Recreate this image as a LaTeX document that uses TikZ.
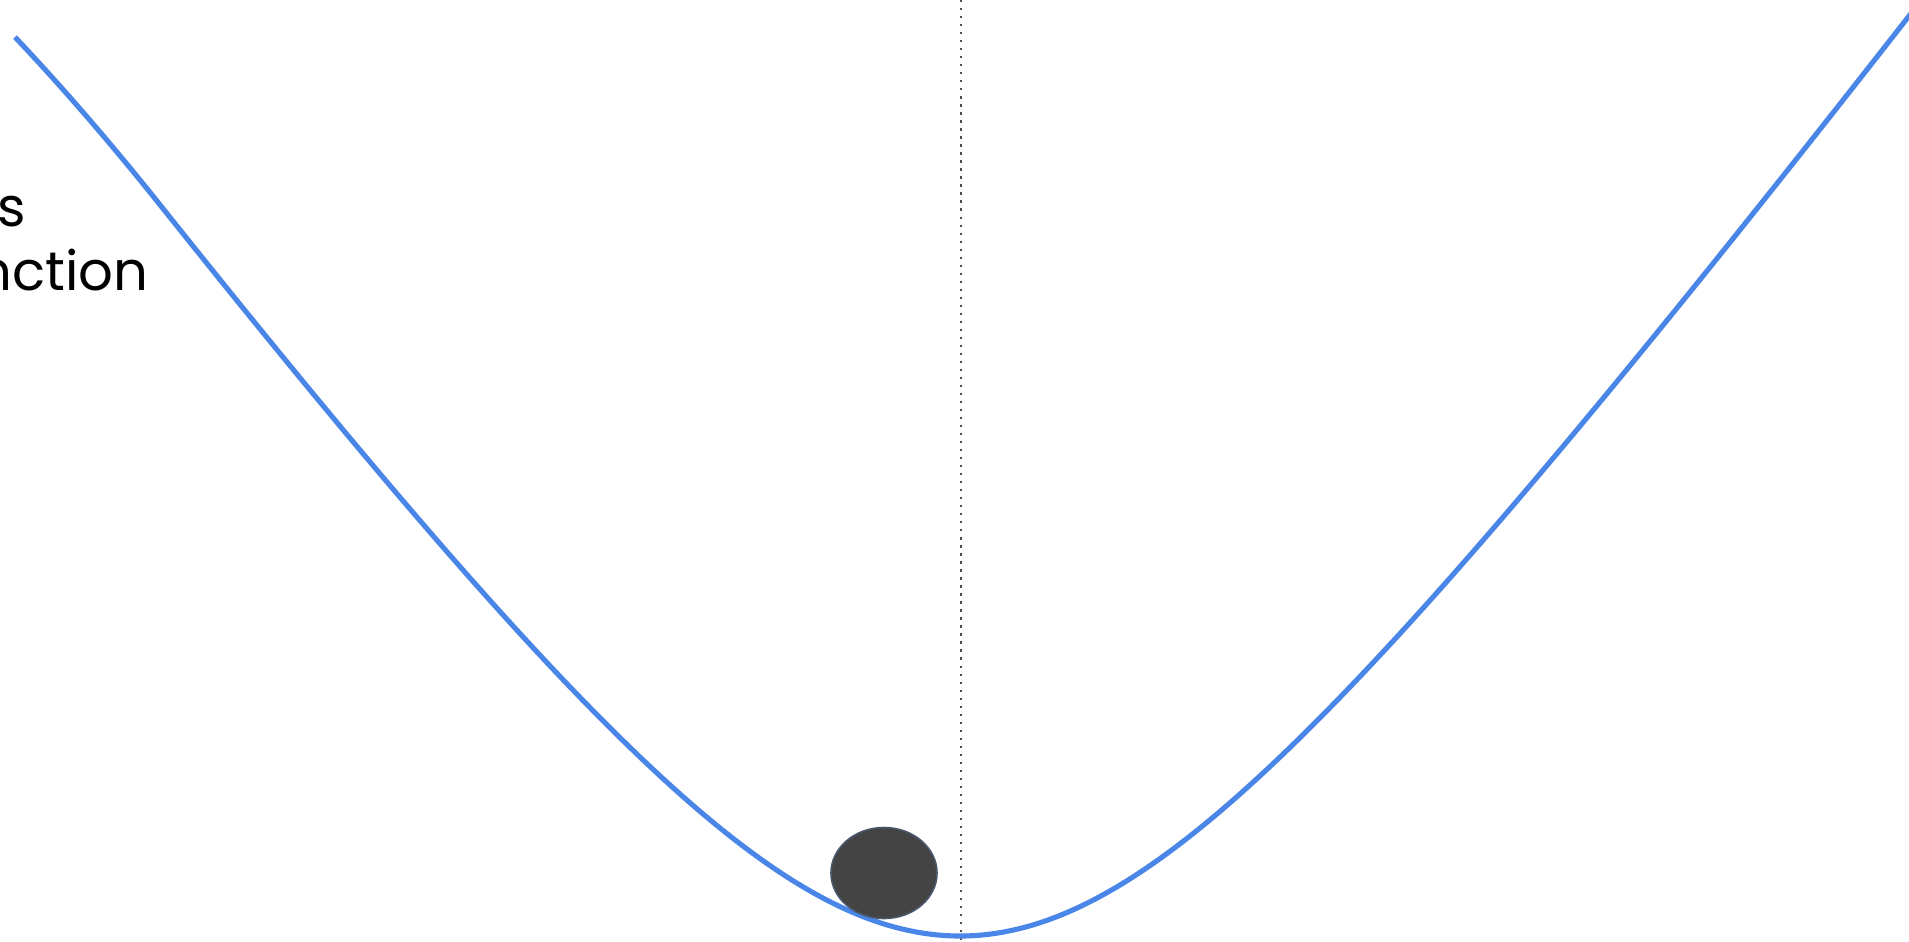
\documentclass[tikz,border=0pt]{standalone}
\usepackage{fontspec}
\setmainfont{Poppins}
\usetikzlibrary{shapes.geometric}
\definecolor{curveblue}{RGB}{74,134,232}
\definecolor{balldark}{RGB}{68,68,68}
\definecolor{ballrim}{RGB}{74,88,110}
\definecolor{dotgray}{RGB}{70,76,90}
\tikzset{
  losscurve/.style={draw=curveblue, line width=1.45pt, line join=round},
  axisdots/.style={draw=dotgray, line width=0.65pt, dash pattern=on 0.65pt off 1.63pt},
  ballnode/.style={ellipse, fill=balldark, draw=ballrim, line width=0.45pt, minimum width=1.06cm, minimum height=0.91cm, inner sep=0pt},
  labeltext/.style={inner sep=0pt, font=\fontsize{15.5}{18}\selectfont, text=black}
}
\begin{document}
\begin{tikzpicture}[x=0.01cm, y=-0.01cm]
\useasboundingbox (0,0) rectangle (1909,941);
\clip (0,0) rectangle (1909,941);
\fill[white] (0,0) rectangle (1909,941);
% labels (cut off at the left edge)
\node[labeltext, anchor=base east] (loss) at (27,226) {Loss};
\node[labeltext, anchor=base east] (func) at (149,290) {Function};
% dotted vertical line through the minimum
\coordinate (dtop) at (961,0);
\coordinate (dbot) at (961,941);
\draw[axisdots] (dtop) -- (dbot);
% loss curve
\draw[losscurve] plot[domain=0.15:19.35, samples=320, variable=\t]
  ({100*\t}, {936 - 135*(sqrt((\t-9.6)*(\t-9.6)+10.24)-3.2) + 7.6*(max(0,1.6-\t))^2});
% ball
\node[ballnode] (ball) at (884,873) {};
\end{tikzpicture}
\end{document}
